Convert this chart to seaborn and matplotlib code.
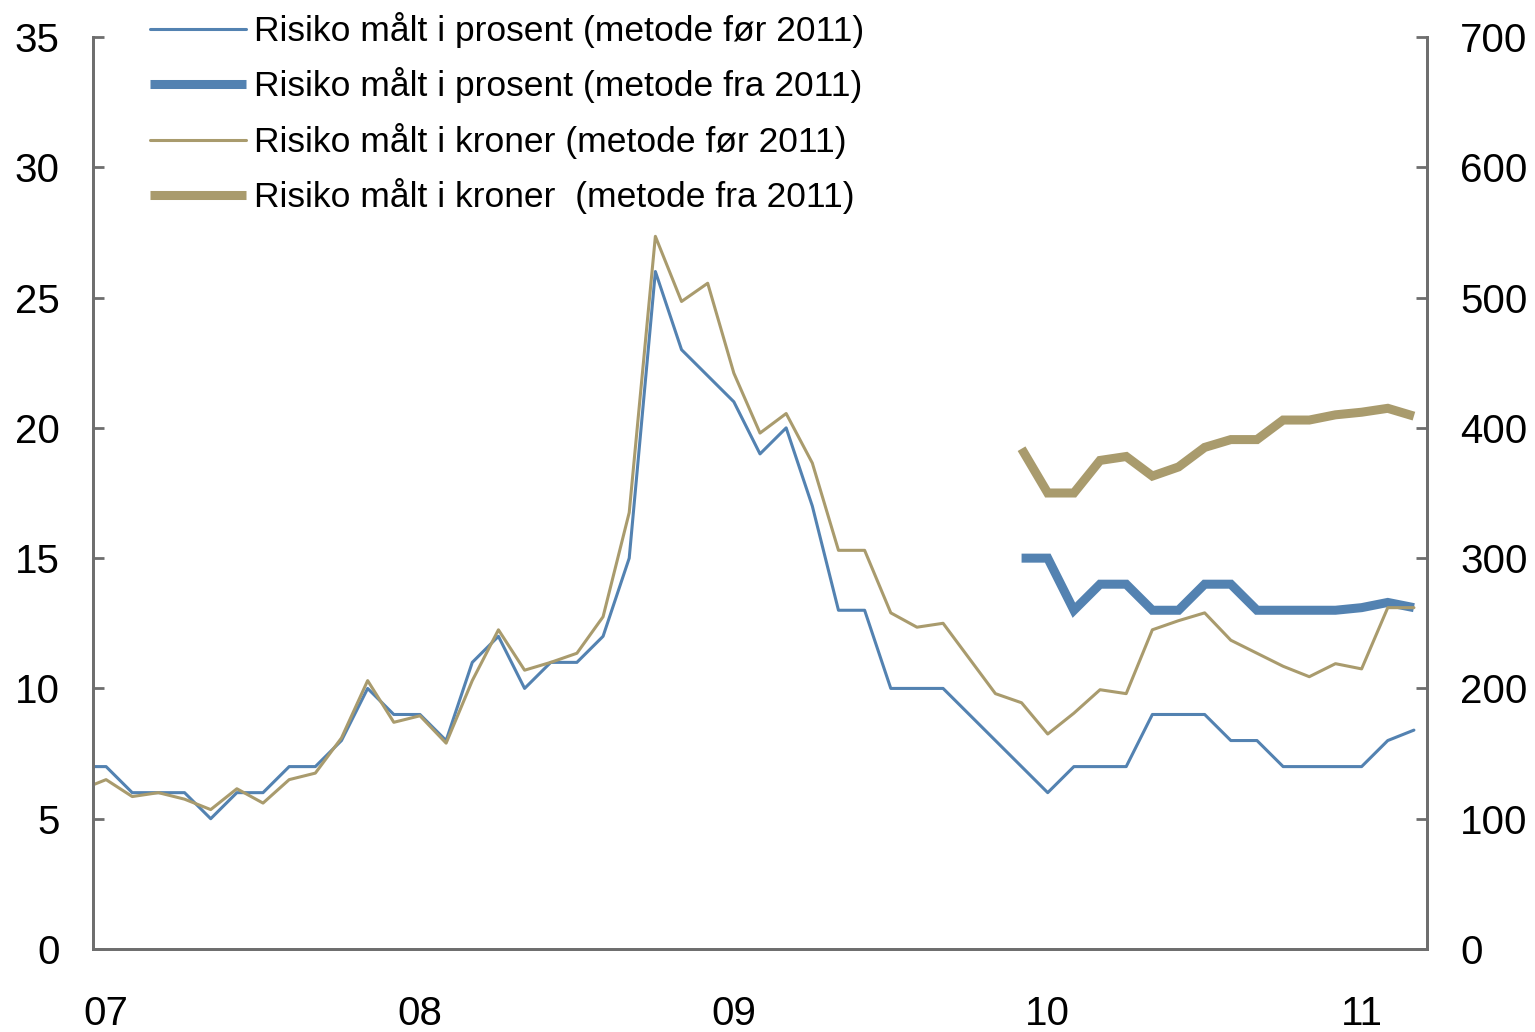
import matplotlib
matplotlib.use("Agg")
import matplotlib.pyplot as plt
import seaborn as sns
import pandas as pd

# monthly observations, Dec 2006 - Mar 2011
months = pd.period_range("2006-12", "2011-03", freq="M")
pct_old = [7,
           7, 6, 6, 6, 5, 6, 6, 7, 7, 8, 10, 9,
           9, 8, 11, 12, 10, 11, 11, 12, 15, 26, 23, 22,
           21, 19, 20, 17, 13, 13, 10, 10, 10, 9, 8, 7,
           6, 7, 7, 7, 9, 9, 9, 8, 8, 7, 7, 7,
           7, 8, 8.4]
kr_old = [122,
          130, 117, 120, 115, 107, 123, 112, 130, 135, 162, 206, 174,
          179, 158, 206, 245, 214, 220, 227, 255, 335, 547, 497, 511,
          442, 396, 411, 373, 306, 306, 258, 247, 250, 223, 196, 189,
          165, 181, 199, 196, 245, 252, 258, 237, 227, 217, 209, 219,
          215, 262, 262]

# new method, Dec 2009 - Mar 2011
months_new = pd.period_range("2009-12", "2011-03", freq="M")
pct_new = [15, 15, 13, 14, 14, 13, 13, 14, 14, 13, 13, 13, 13, 13.1, 13.3, 13.1]
kr_new = [384, 350, 350, 375, 378, 363, 370, 385, 391, 391, 406, 406, 410, 412, 415, 409]

year_labels = ["07", "08", "09", "10", "11"]

labels = [
    "Risiko målt i prosent (metode før 2011)",
    "Risiko målt i prosent (metode fra 2011)",
    "Risiko målt i kroner (metode før 2011)",
    "Risiko målt i kroner  (metode fra 2011)",
]

BLUE = "#5382B1"
TAN = "#A99B6D"
AXC = "#6E6E6E"


def month_pos(periods):
    # category index, Jan 2007 = 0
    return [(p.year - 2007) * 12 + p.month - 1 for p in periods]


old = pd.DataFrame({"x": month_pos(months), "pct": pct_old, "kr": kr_old})
new = pd.DataFrame({"x": month_pos(months_new), "pct": pct_new, "kr": kr_new})

sns.set_style("white")
plt.rcParams["font.family"] = ["Liberation Sans", "DejaVu Sans"]
plt.rcParams["text.color"] = "black"
plt.rcParams["xtick.labelcolor"] = "black"
plt.rcParams["ytick.labelcolor"] = "black"

fig = plt.figure(figsize=(15.35, 10.32), dpi=100)
ax = fig.add_axes([93 / 1535, 1 - 949 / 1032, (1427 - 93) / 1535, (949 - 37) / 1032])
ax2 = ax.twinx()

thin = dict(linewidth=2.2)
thick = dict(linewidth=6.5, solid_capstyle="butt", solid_joinstyle="miter")
sns.lineplot(data=old, x="x", y="pct", ax=ax, color=BLUE, label=labels[0], **thin)
sns.lineplot(data=new, x="x", y="pct", ax=ax, color=BLUE, label=labels[1], **thick)
sns.lineplot(data=old, x="x", y="kr", ax=ax2, color=TAN, label=labels[2], **thin)
sns.lineplot(data=new, x="x", y="kr", ax=ax2, color=TAN, label=labels[3], **thick)

ax.set_xlim(-0.5, 50.5)
ax.set_ylim(0, 35)
ax2.set_ylim(0, 700)
ax.set_yticks(range(0, 36, 5))
ax2.set_yticks(range(0, 701, 100))

# year boundaries as ticks, labels centred on January
ax.set_xticks([y * 12 - 0.5 for y in range(5)])
ax.set_xticklabels([])
ax.set_xticks([y * 12 for y in range(5)], minor=True)
ax.set_xticklabels(year_labels, minor=True)
ax.tick_params(axis="x", which="major", direction="in", length=10, width=2, color=AXC)
ax.tick_params(axis="x", which="minor", length=0, pad=33, labelsize=29, labelcolor="black")
ax.tick_params(axis="y", direction="in", length=8, width=2, color=AXC, pad=24,
               labelsize=29, labelcolor="black")
ax2.tick_params(axis="y", direction="in", length=8, width=2, color=AXC, pad=24,
                labelsize=29, labelcolor="black")

for a in (ax, ax2):
    a.set_xlabel("")
    a.set_ylabel("")
    a.spines["top"].set_visible(False)
    for s in ("left", "right", "bottom"):
        a.spines[s].set_color(AXC)
        a.spines[s].set_linewidth(2)

h1, l1 = ax.get_legend_handles_labels()
h2, l2 = ax2.get_legend_handles_labels()
ax.get_legend().remove()
leg = ax2.legend(
    h1 + h2, l1 + l2,
    loc="upper left",
    bbox_to_anchor=(150 / 1535, 1 - 12 / 1032),
    bbox_transform=fig.transFigure,
    frameon=False,
    fontsize=25.5,
    handlelength=2.7,
    handletextpad=0.25,
    labelspacing=0.55,
    borderpad=0,
    borderaxespad=0,
)
for t in leg.get_texts():
    t.set_color("black")

fig.savefig("out.png", dpi=100)
